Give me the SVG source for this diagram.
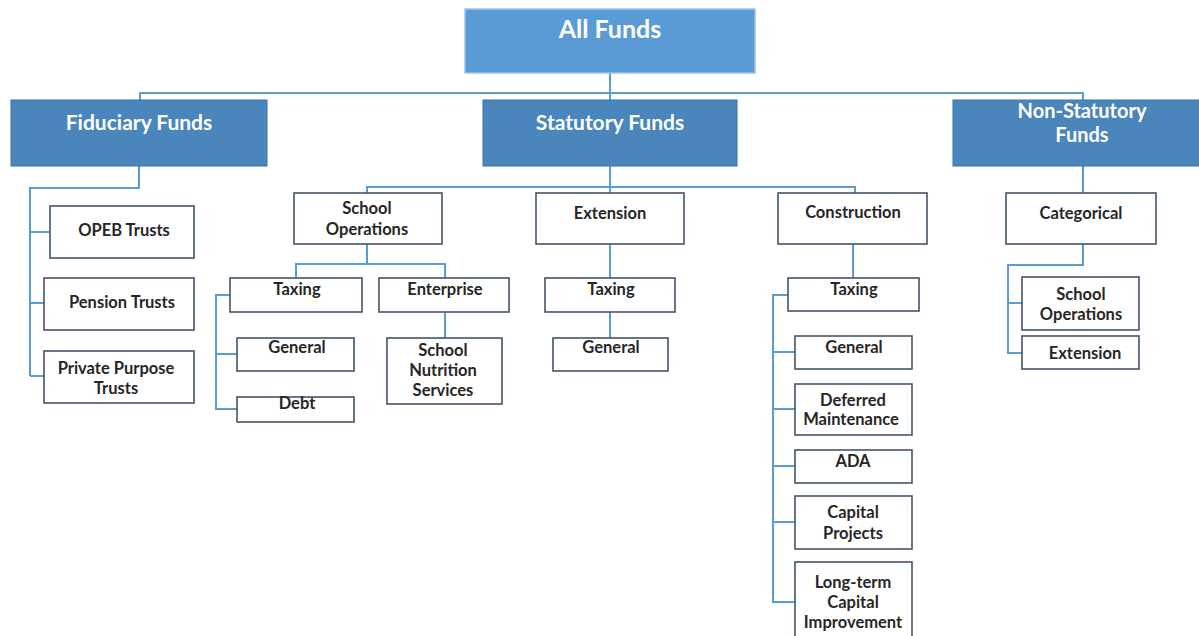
<svg xmlns="http://www.w3.org/2000/svg" width="1199" height="636" viewBox="0 0 1199 636">
<style>
.top{fill:#5B9BD5;stroke:#9DC3E6;stroke-width:1.5}
.hdr{fill:#4A85BC;stroke:#3E73A6;stroke-width:1}
.box{fill:#FFFFFF;stroke:#44546A;stroke-width:1.6}
.ht{font-family:Lato,"Liberation Sans",sans-serif;font-weight:bold;fill:#FFFFFF;text-anchor:middle}
.t{font-family:Lato,"Liberation Sans",sans-serif;font-weight:bold;font-size:16.5px;fill:#262626;text-anchor:middle}
.c{fill:none;stroke:#5B9BD5;stroke-width:2}
</style>
<g id="connectors">
<path class="c" d="M610 73V100M140 100V93H1083V100"/>
<path class="c" d="M139 166V188H30V376M30 232H50M30 303H44M30 376H44"/>
<path class="c" d="M610 166V187M367 193V187H855V193M610 187V193"/>
<path class="c" d="M367 244V264M296 278V264H445V278M230 295H216V409H237M216 354H237M445 312V338"/>
<path class="c" d="M610 244V278M610 312V338"/>
<path class="c" d="M853 244V278M788 295H773V602H795M773 352H795M773 409H795M773 466H795M773 522H795"/>
<path class="c" d="M1083 166V193M1083 244V265H1008V353H1022M1008 303H1022"/>
</g>
<g id="all-funds"><rect class="top" x="465" y="9" width="290" height="64"/><text class="ht" x="610" y="38" font-size="25">All Funds</text></g>
<g id="fiduciary"><rect class="hdr" x="11" y="100" width="256" height="66"/><text class="ht" x="139" y="130" font-size="21">Fiduciary Funds</text></g>
<g id="statutory"><rect class="hdr" x="483" y="100" width="254" height="66"/><text class="ht" x="610" y="130" font-size="21">Statutory Funds</text></g>
<g id="non-statutory"><rect class="hdr" x="953" y="100" width="250" height="66"/><text class="ht" x="1082" y="118" font-size="20">Non-Statutory</text><text class="ht" x="1082" y="142" font-size="20">Funds</text></g>
<g id="opeb"><rect class="box" x="50" y="206" width="144" height="52"/><text class="t" x="124" y="236">OPEB Trusts</text></g>
<g id="pension"><rect class="box" x="44" y="278" width="150" height="52"/><text class="t" x="122" y="308">Pension Trusts</text></g>
<g id="private"><rect class="box" x="44" y="351" width="150" height="52"/><text class="t" x="116" y="374">Private Purpose</text><text class="t" x="116" y="394">Trusts</text></g>
<g id="school-ops"><rect class="box" x="294" y="193" width="148" height="51"/><text class="t" x="367" y="214">School</text><text class="t" x="367" y="235">Operations</text></g>
<g id="extension"><rect class="box" x="536" y="193" width="148" height="51"/><text class="t" x="610" y="219">Extension</text></g>
<g id="construction"><rect class="box" x="778" y="193" width="149" height="51"/><text class="t" x="853" y="218">Construction</text></g>
<g id="categorical"><rect class="box" x="1006" y="193" width="150" height="51"/><text class="t" x="1081" y="219">Categorical</text></g>
<g id="so-taxing"><rect class="box" x="230" y="278" width="132" height="34"/><text class="t" x="297" y="295">Taxing</text></g>
<g id="so-enterprise"><rect class="box" x="379" y="278" width="130" height="34"/><text class="t" x="445" y="295">Enterprise</text></g>
<g id="so-general"><rect class="box" x="237" y="338" width="117" height="33"/><text class="t" x="297" y="353">General</text></g>
<g id="so-debt"><rect class="box" x="237" y="397" width="117" height="25"/><text class="t" x="297" y="409">Debt</text></g>
<g id="sns"><rect class="box" x="387" y="338" width="115" height="66"/><text class="t" x="443" y="356">School</text><text class="t" x="443" y="376">Nutrition</text><text class="t" x="443" y="396">Services</text></g>
<g id="ext-taxing"><rect class="box" x="545" y="278" width="130" height="34"/><text class="t" x="611" y="295">Taxing</text></g>
<g id="ext-general"><rect class="box" x="553" y="338" width="115" height="33"/><text class="t" x="611" y="353">General</text></g>
<g id="con-taxing"><rect class="box" x="788" y="278" width="131" height="33"/><text class="t" x="854" y="295">Taxing</text></g>
<g id="con-general"><rect class="box" x="795" y="336" width="117" height="33"/><text class="t" x="854" y="353">General</text></g>
<g id="deferred"><rect class="box" x="795" y="384" width="117" height="51"/><text class="t" x="853" y="406">Deferred</text><text class="t" x="851" y="425">Maintenance</text></g>
<g id="ada"><rect class="box" x="795" y="450" width="117" height="33"/><text class="t" x="853" y="467">ADA</text></g>
<g id="capital-projects"><rect class="box" x="795" y="496" width="117" height="53"/><text class="t" x="853" y="518">Capital</text><text class="t" x="853" y="539">Projects</text></g>
<g id="long-term"><rect class="box" x="795" y="562" width="117" height="80"/><text class="t" x="853" y="588">Long-term</text><text class="t" x="853" y="608">Capital</text><text class="t" x="853" y="628">Improvement</text></g>
<g id="cat-school-ops"><rect class="box" x="1022" y="277" width="117" height="53"/><text class="t" x="1081" y="300">School</text><text class="t" x="1081" y="320">Operations</text></g>
<g id="cat-extension"><rect class="box" x="1022" y="336" width="117" height="33"/><text class="t" x="1085" y="359">Extension</text></g>
</svg>
